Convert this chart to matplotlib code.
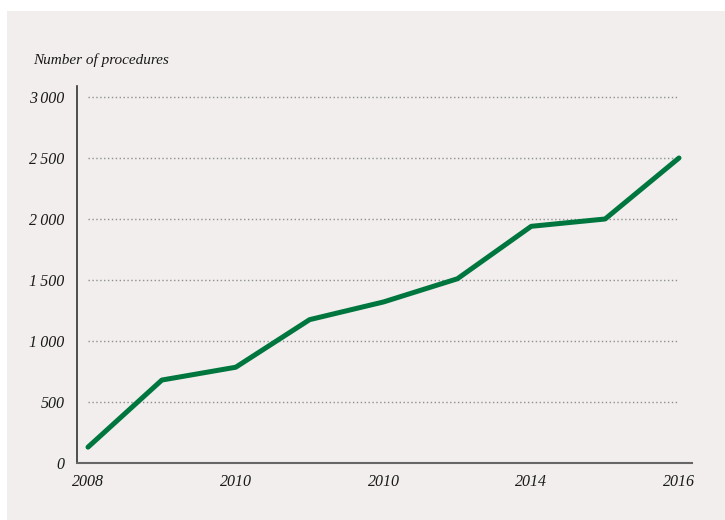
import matplotlib
matplotlib.use("Agg")
import matplotlib.pyplot as plt
from matplotlib.patches import Rectangle

years = [2008, 2009, 2010, 2011, 2012, 2013, 2014, 2015, 2016]
procedures = [130, 680, 785, 1175, 1320, 1510, 1940, 2000, 2500]
xtick_pos = [2008, 2010, 2012, 2014, 2016]
xtick_labels = ["2008", "2010", "2010", "2014", "2016"]
ytick_pos = [0, 500, 1000, 1500, 2000, 2500, 3000]
ytick_labels = ["0", "500", "1\u2009000", "1\u2009500", "2\u2009000", "2\u2009500", "3\u2009000"]
ylabel = "Number of procedures"

W, H = 725, 520
fig = plt.figure(figsize=(W / 100, H / 100), dpi=100)
fig.patch.set_facecolor("white")
fig.patches.append(Rectangle((7 / W, 0), 1 - 7 / W, 1 - 11 / H, transform=fig.transFigure,
                             facecolor="#f1eeed", edgecolor="none", zorder=-10))

ax = fig.add_axes([77 / W, 57 / H, (692 - 77) / W, (463 - 86) / H])
ax.set_facecolor("none")
ax.set_zorder(5)

font = dict(family="Liberation Serif", style="italic", size=11.5, color="#1a1a1a")
title_font = dict(font, size=11)

for y in ytick_pos[1:]:
    ax.hlines(y, years[0], years[-1], colors="#8f8f8f", linestyles=(0, (1, 1.8)), linewidth=1.0, zorder=1)

ax.plot(years, procedures, color="#00763f", linewidth=3.6, solid_capstyle="round",
        solid_joinstyle="round", zorder=3)

ax.set_xlim(2007.851, 2016.176)
ax.set_ylim(0, 3090)
ax.set_xticks(xtick_pos)
ax.set_xticklabels(xtick_labels, fontdict=font)
ax.set_yticks(ytick_pos)
ax.set_yticklabels(ytick_labels, fontdict=font)
ax.tick_params(axis="both", length=0)
ax.tick_params(axis="y", pad=9)
ax.tick_params(axis="x", pad=8)

for s in ["top", "right"]:
    ax.spines[s].set_visible(False)
ax.spines["left"].set_color("#333333")
ax.spines["left"].set_linewidth(1.2)
ax.spines["bottom"].set_color("#666666")
ax.spines["bottom"].set_linewidth(1.5)

fig.text(33 / W, 1 - 60 / H, ylabel, ha="left", va="center", zorder=6, **title_font)

fig.savefig("out.png", dpi=100)
